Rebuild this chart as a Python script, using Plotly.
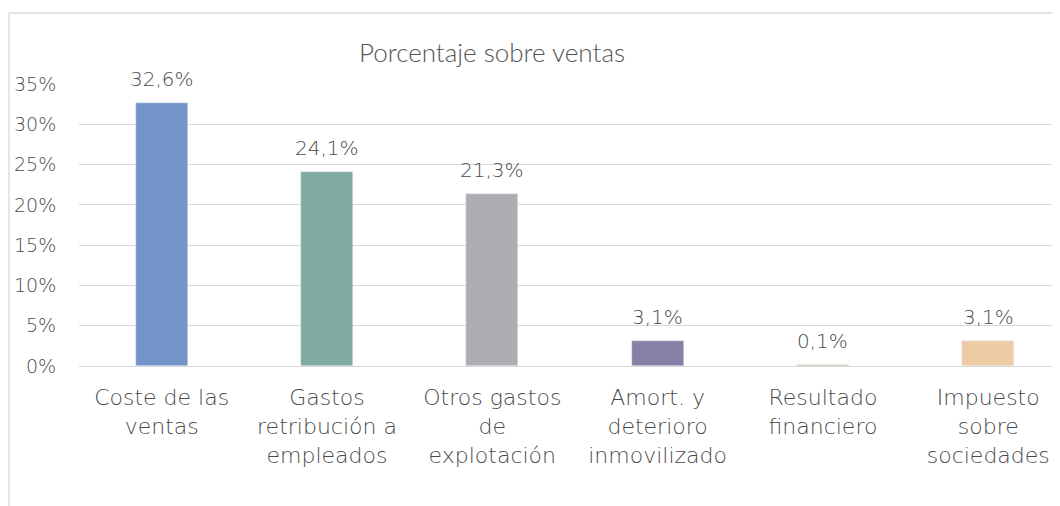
import plotly.graph_objects as go

categories = ["Coste de las<br>ventas", "Gastos<br>retribución a<br>empleados", "Otros gastos<br>de<br>explotación",
              "Amort. y<br>deterioro<br>inmovilizado", "Resultado<br>financiero", "Impuesto<br>sobre<br>sociedades"]
values = [32.6, 24.1, 21.3, 3.1, 0.1, 3.1]
colors = ["#7394C8", "#7FABA3", "#AEADB2", "#8580A4", "#C9A57A", "#EDCCA5"]
y_ticks = [0, 5, 10, 15, 20, 25, 30, 35]
y_tick_labels = ["0%", "5%", "10%", "15%", "20%", "25%", "30%", "35%"]

# page has an 8px body margin; figure is sized to fit the window
W, H = 1052, 498
font_main = "DejaVu Sans"
text_col = "#4A4A4A"
ML, MT, MB = 71, 76, 140
PH = H - MT - MB
PW = W - ML

fig = go.Figure()
fig.add_trace(go.Bar(
    x=list(range(len(categories))), y=values, marker_color=colors, width=0.315,
    hoverinfo="skip", showlegend=False,
))

for i, v in enumerate(values):
    fig.add_annotation(x=i, y=v, xref="x", yref="y", text=f"{v:.1f}".replace(".", ",") + "%",
                       showarrow=False, yanchor="bottom", yshift=10,
                       font=dict(family=font_main, size=20, color=text_col, weight=300))

fig.update_layout(
    width=W, height=H,
    margin=dict(l=ML, r=0, t=MT, b=MB),
    paper_bgcolor="white", plot_bgcolor="white",
    title=dict(text="Porcentaje sobre ventas", xref="container", x=484 / W, xanchor="center",
               y=1 - 45 / H, yanchor="middle",
               font=dict(family="Lato", size=26, color="#555555", weight=300)),
    bargap=0,
    xaxis=dict(
        tickmode="array", tickvals=list(range(len(categories))), ticktext=categories,
        range=[-0.5, 5.434], showgrid=False, zeroline=False, showline=False,
        ticks="outside", ticklen=12, tickcolor="rgba(0,0,0,0)",
        tickfont=dict(family=font_main, size=22, color=text_col, weight=300), tickangle=0,
    ),
    yaxis=dict(
        range=[0, 35], tickmode="array", tickvals=y_ticks, ticktext=y_tick_labels,
        showgrid=True, gridcolor="#D9D9D9", gridwidth=1.3, zeroline=True, zerolinecolor="#D9D9D9",
        zerolinewidth=1.3, showline=False, ticks="outside", ticklen=18, tickcolor="rgba(0,0,0,0)",
        tickfont=dict(family=font_main, size=19, color=text_col, weight=300),
    ),
    shapes=[
        dict(type="line", xref="paper", yref="paper", x0=(1 - ML) / PW, x1=1.05,
             y0=1 + (MT - 5) / PH, y1=1 + (MT - 5) / PH,
             line=dict(color="#D9D9D9", width=1.3)),
        dict(type="line", xref="paper", yref="paper", x0=(1 - ML) / PW, x1=(1 - ML) / PW,
             y0=-2, y1=1 + (MT - 5) / PH,
             line=dict(color="#D9D9D9", width=1.3)),
    ],
)

fig.write_html("out.html")
